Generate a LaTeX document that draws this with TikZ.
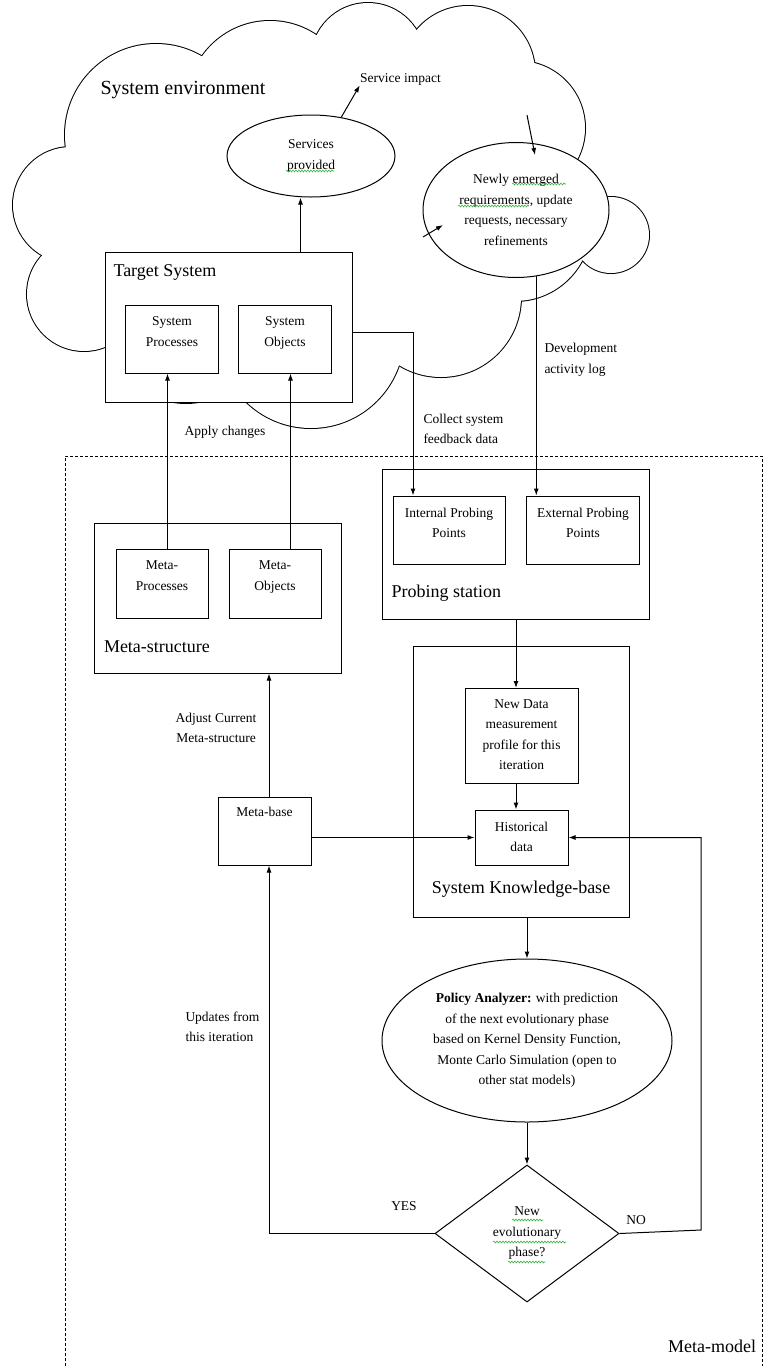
\documentclass[tikz,border=0pt]{standalone}
\usepackage{fontspec}
\setmainfont{Liberation Serif}
\usetikzlibrary{arrows.meta,shapes.geometric,decorations.pathmorphing}
\definecolor{SpellGreen}{HTML}{3CB043}
\newcommand\bodysize{\fontsize{13.5}{20.5}\selectfont}
\newcommand\headsize{\fontsize{18}{22}\selectfont}

\begin{document}
\begin{tikzpicture}[x=1pt,y=-1pt,line width=1pt,
  box/.style={draw,fill=white,rectangle,inner sep=0pt},
  oval/.style={draw,fill=white,ellipse,inner sep=0pt,align=center,font=\bodysize},
  txt/.style={inner sep=0pt,align=center,font=\bodysize},
  boxtxt/.style={txt,anchor=north},
  head/.style={inner sep=0pt,font=\headsize},
  arr/.style={-{Latex[length=7pt,width=5pt]}},
  squiggle/.style={SpellGreen,line width=0.6pt,decorate,
    decoration={snake,amplitude=0.9pt,segment length=3pt}}]
\useasboundingbox (0,0) rectangle (768,1366);

% system environment cloud (union of puffs)
\foreach \cx/\cy/\r in {156/135/91,270/104/83,368/60/57,468/73/67,518/128/67,611/235/38,
                        515/225/76,441/297/80,311/335/93,186/330/73,84/294/57,71/205/58}
  \draw[line width=2pt] (\cx,\cy) circle (\r);
\foreach \cx/\cy/\r in {156/135/91,270/104/83,368/60/57,468/73/67,518/128/67,611/235/38,
                        515/225/76,441/297/80,311/335/93,186/330/73,84/294/57,71/205/58}
  \fill[white] (\cx,\cy) circle (\r);
\fill[white] (156,135) -- (270,104) -- (368,60) -- (468,73) -- (518,128) -- (515,225)
  -- (441,297) -- (311,335) -- (186,330) -- (84,294) -- (71,205) -- cycle;
\node[inner sep=0pt,font=\fontsize{20}{24}\selectfont] (env) at (183,90) {System environment};

% meta-model frame
\draw[dash pattern=on 3pt off 2pt] (65,1366) -- (65,456) -- (762,456) -- (762,1366);
\node[head] (metamodel) at (712,1346) {Meta-model};

% target system
\node[box,minimum width=247pt,minimum height=150pt] (target) at (228.5,327) {};
\node[head,anchor=west] (target-t) at (113,272) {Target System};
\node[box,minimum width=93pt,minimum height=68pt] (sysproc) at (172,339) {};
\node[boxtxt] (sysproc-t) at ([yshift=-12pt]sysproc.north) {System\\Processes};
\node[box,minimum width=93pt,minimum height=68pt] (sysobj) at (285,339) {};
\node[boxtxt] (sysobj-t) at ([yshift=-12pt]sysobj.north) {System\\Objects};

\node[oval,minimum width=168pt,minimum height=82pt] (svc) at (311,156) {Services\\provided};
\node[txt] (impact) at (400.5,79) {Service impact};
\node[oval,minimum width=186pt,minimum height=135pt] (newreq) at (516,210)
  {Newly emerged\\requirements, update\\requests, necessary\\refinements};
\coordinate (reqin-a) at (527,115);
\coordinate (reqin-b) at (535,155);
\coordinate (reqin-c) at (423,237);
\coordinate (reqin-d) at (443,225);

% meta-structure
\node[box,minimum width=247pt,minimum height=150pt] (metastruct) at (218,598) {};
\node[head,anchor=west] (metastruct-t) at (103.5,647) {Meta-structure};
\node[box,minimum width=92pt,minimum height=69pt] (metaproc) at (162,583.5) {};
\node[boxtxt] (metaproc-t) at ([yshift=-12pt]metaproc.north) {Meta-\\Processes};
\node[box,minimum width=92pt,minimum height=69pt] (metaobj) at (275,583.5) {};
\node[boxtxt] (metaobj-t) at ([yshift=-12pt]metaobj.north) {Meta-\\Objects};

% probing station
\node[box,minimum width=267pt,minimum height=150pt] (probe) at (516,544) {};
\node[head,anchor=west] (probe-t) at (391,593) {Probing station};
\node[box,minimum width=112pt,minimum height=68pt] (intprobe) at (449,530) {};
\node[boxtxt] (intprobe-t) at ([yshift=-12pt]intprobe.north) {Internal Probing\\Points};
\node[box,minimum width=113pt,minimum height=68pt] (extprobe) at (583,530) {};
\node[boxtxt] (extprobe-t) at ([yshift=-12pt]extprobe.north) {External Probing\\Points};

% knowledge-base
\node[box,minimum width=216pt,minimum height=271pt] (kb) at (521,781.5) {};
\node[head] (kb-t) at (521,889) {System Knowledge-base};
\node[box,minimum width=113pt,minimum height=95pt] (newdata) at (521.5,736) {};
\node[boxtxt] (newdata-t) at ([yshift=-11pt]newdata.north) {New Data\\measurement\\profile for this\\iteration};
\node[box,minimum width=93pt,minimum height=55pt] (hist) at (521.5,837.5) {};
\node[boxtxt] (hist-t) at ([yshift=-12pt]hist.north) {Historical\\data};
\node[box,minimum width=93pt,minimum height=68pt] (metabase) at (264.5,831) {};
\node[boxtxt] (metabase-t) at ([yshift=-10pt]metabase.north) {Meta-base};

% analysis and decision
\node[oval,minimum width=290pt,minimum height=163pt] (policy) at (527,1040.5)
  {\textbf{Policy Analyzer:} with prediction\\of the next evolutionary phase\\based on Kernel Density Function,\\Monte Carlo Simulation (open to\\other stat models)};
\node[draw,fill=white,diamond,inner sep=0pt,minimum width=184pt,minimum height=137pt,
  align=center,font=\bodysize] (decide) at (527,1233.5) {New\\evolutionary\\phase?};
\coordinate (nocorner) at (701,1230);

% spell-check marks
\draw[squiggle] (286,171) -- (334,171);
\draw[squiggle] (512,184) -- (566,184);
\draw[squiggle] (458,206) -- (529,206);
\draw[squiggle] (512,1220) -- (543,1220);
\draw[squiggle] (493,1242) -- (566,1242);
\draw[squiggle] (508,1262) -- (545,1262);

% labels
\node[txt] (apply) at (225,432) {Apply changes};
\node[txt,align=left,anchor=west] (collect) at (423,429) {Collect system\\feedback data};
\node[txt,align=left,anchor=west] (devlog) at (544,360) {Development\\activity log};
\node[txt] (adjust) at (216,728) {Adjust Current\\Meta-structure};
\node[txt,align=left,anchor=west] (updates) at (185,1027) {Updates from\\this iteration};
\node[txt] (yes) at (404,1206) {YES};
\node[txt] (no) at (636,1220) {NO};

% connectors
\draw[arr] ([xshift=72pt]target.north) -- ([xshift=72pt]target.north |- svc.south);
\draw[arr] (svc.52) -- (impact.south west);
\draw[arr] (reqin-a) -- (reqin-b);
\draw[arr] (reqin-c) -- (reqin-d);
\draw[arr] ([yshift=-5pt]target.east) -| ([xshift=-36pt]intprobe.north);
\draw[arr] (newreq.-73) -- (newreq.-73 |- extprobe.north);
\draw[arr] ([xshift=5.5pt]metaproc.north) -- ([xshift=5.5pt]metaproc.north |- sysproc.south);
\draw[arr] ([xshift=15.5pt]metaobj.north) -- ([xshift=15.5pt]metaobj.north |- sysobj.south);
\draw[arr] (probe.south) -- (probe.south |- newdata.north);
\draw[arr] (newdata.south -| probe.south) -- (hist.north -| probe.south);
\draw[arr] (metabase.east |- hist.west) -- (hist.west);
\draw[arr] (policy.north |- kb.south) -- (policy.north);
\draw[arr] (policy.south) -- (decide.north);
\draw[arr] (decide.west) -| ([xshift=4.5pt]metabase.south);
\draw[arr] (decide.east) -- (nocorner) |- (hist.east);
\draw[arr] ([xshift=4.5pt]metabase.north) -- ([xshift=4.5pt]metabase.north |- metastruct.south);
\end{tikzpicture}
\end{document}
